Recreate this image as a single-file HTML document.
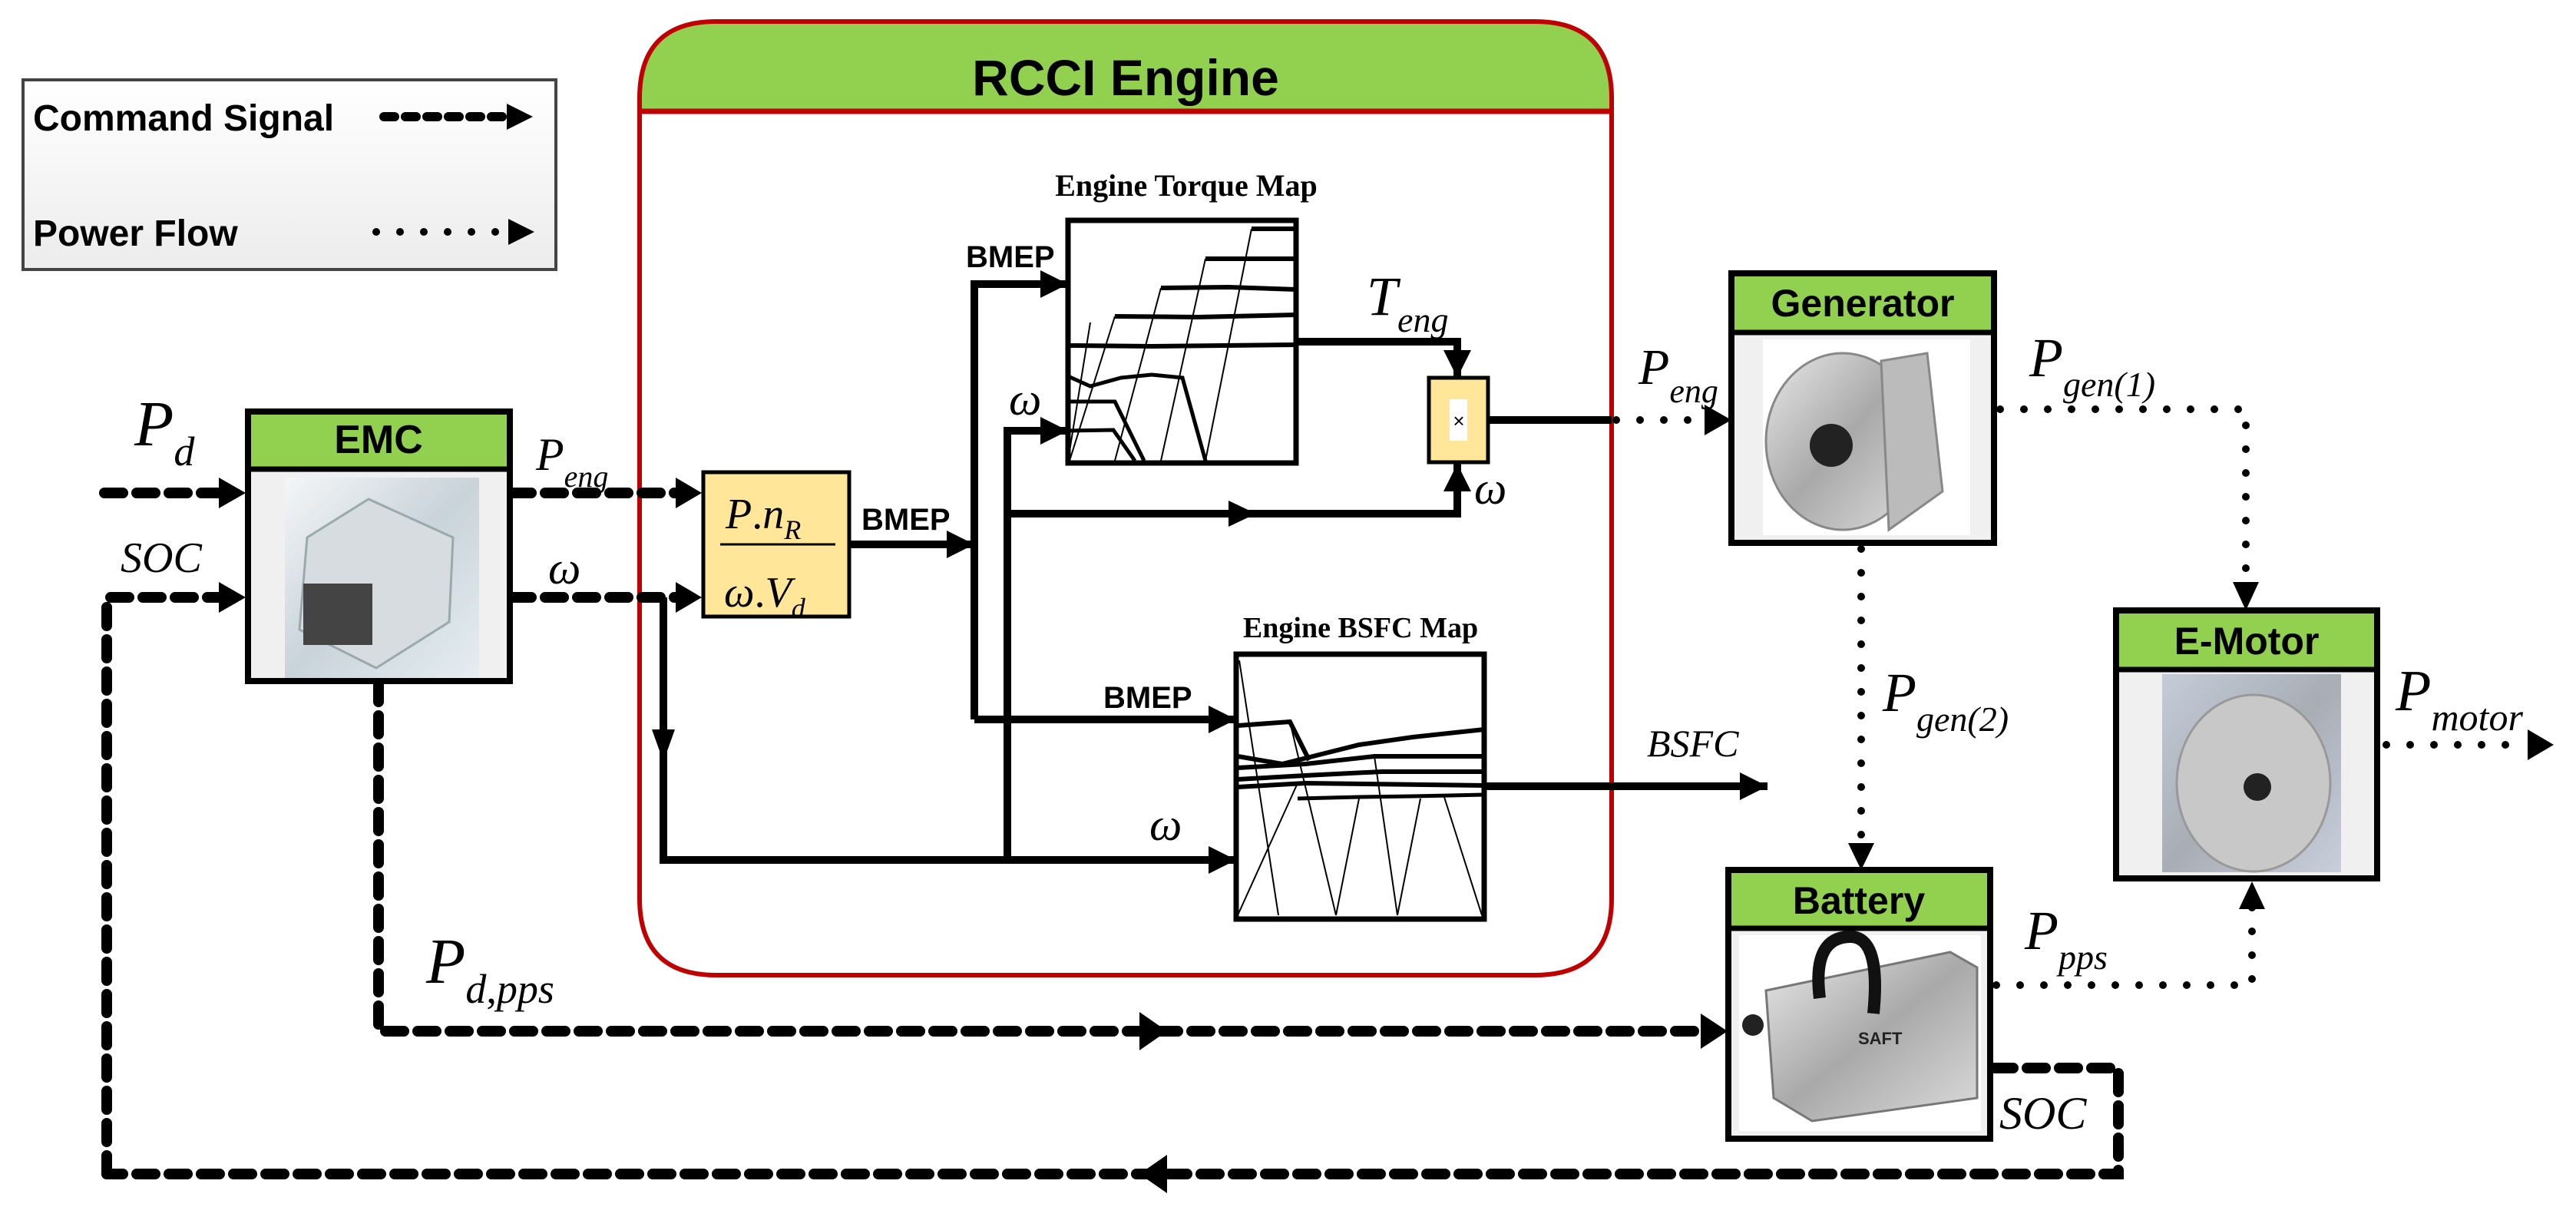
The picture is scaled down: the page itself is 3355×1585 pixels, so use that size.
<!DOCTYPE html>
<html><head><meta charset="utf-8"><style>
html,body{margin:0;padding:0;background:#fff;}
svg{display:block;}
.ser{font-family:"Liberation Serif",serif;font-style:italic;}
.hd{font-family:"Liberation Sans",sans-serif;font-weight:bold;}
</style></head><body>
<svg width="3355" height="1585" viewBox="0 0 3355 1585" xmlns="http://www.w3.org/2000/svg">
<defs>
<marker id="ar" markerUnits="userSpaceOnUse" markerWidth="40" markerHeight="40" refX="36" refY="18" orient="auto"><path d="M0,0 L36,18 L0,36 z" fill="#000"/></marker>
<linearGradient id="lg" x1="0" y1="0" x2="0" y2="1"><stop offset="0" stop-color="#fff"/><stop offset="1" stop-color="#ececec"/></linearGradient>
<linearGradient id="ph1" x1="0" y1="0" x2="1" y2="1"><stop offset="0" stop-color="#f4f6f8"/><stop offset="0.5" stop-color="#c9d3da"/><stop offset="1" stop-color="#e6eef2"/></linearGradient>
<linearGradient id="ph2" x1="0" y1="0" x2="1" y2="1"><stop offset="0" stop-color="#e8e8e8"/><stop offset="0.5" stop-color="#a9a9a9"/><stop offset="1" stop-color="#dcdcdc"/></linearGradient>
<linearGradient id="ph3" x1="0" y1="0" x2="1" y2="1"><stop offset="0" stop-color="#c5ccd8"/><stop offset="0.5" stop-color="#a8adb5"/><stop offset="1" stop-color="#c8cfdb"/></linearGradient>
</defs>

<!-- Legend -->
<rect x="30" y="104" width="694" height="247" fill="url(#lg)" stroke="#444" stroke-width="4"/>
<text x="43" y="170" class="hd" font-size="48">Command Signal</text>
<line x1="500" y1="152" x2="660" y2="152" stroke="#000" stroke-width="12" stroke-dasharray="14 14" stroke-linecap="round"/>
<path d="M660,135 L694,152 L660,169 z"/>
<text x="43" y="320" class="hd" font-size="48">Power Flow</text>
<line x1="490" y1="302" x2="660" y2="302" stroke="#000" stroke-width="10" stroke-dasharray="0 31" stroke-linecap="round"/>
<path d="M662,285 L696,302 L662,319 z"/>

<!-- RCCI engine container -->
<path d="M833,145 L833,128 Q833,28 933,28 L1999,28 Q2099,28 2099,128 L2099,145 Z" fill="#92d050"/>
<path d="M933,28 L1999,28 Q2099,28 2099,128 L2099,1170 Q2099,1270 1999,1270 L933,1270 Q833,1270 833,1170 L833,128 Q833,28 933,28 Z" fill="none" stroke="#c00000" stroke-width="6"/>
<line x1="833" y1="145" x2="2099" y2="145" stroke="#c00000" stroke-width="7"/>
<text x="1466" y="124" class="hd" font-size="66" text-anchor="middle">RCCI Engine</text>

<!-- Torque map -->
<text x="1545" y="255" font-family="Liberation Serif,serif" font-weight="bold" font-size="40" text-anchor="middle">Engine Torque Map</text>
<rect x="1391" y="287" width="297" height="316" fill="#fff" stroke="#000" stroke-width="7"/>
<g stroke="#000" fill="none">
<path d="M1630,298 L1688,298 M1570,337 L1688,337 M1512,375 L1600,374 L1688,377 M1452,412 L1560,413 L1688,410 M1391,450 L1500,451 L1688,449" stroke-width="6"/>
<path d="M1391,490 L1420,503 L1460,492 L1500,488 L1540,492 L1570,600 M1391,523 L1452,523 L1490,600 M1391,561 L1450,560 L1478,600" stroke-width="5"/>
<path d="M1393,600 L1452,412 M1452,600 L1512,375 M1512,600 L1570,337 M1570,600 L1630,298 M1391,600 L1420,420" stroke-width="2"/>
</g>
<!-- BSFC map -->
<text x="1772" y="830" font-family="Liberation Serif,serif" font-weight="bold" font-size="38" text-anchor="middle">Engine BSFC Map</text>
<rect x="1610" y="852" width="323" height="345" fill="#fff" stroke="#000" stroke-width="7"/>
<g stroke="#000" fill="none">
<path d="M1612,945 L1680,940 L1705,990 M1612,985 L1670,995 L1710,985 L1770,970 L1840,960 L1933,950 M1612,1000 L1700,995 L1790,985 L1933,985 M1612,1015 L1700,1010 L1800,1005 L1933,1005 M1612,1025 L1700,1020 L1933,1023" stroke-width="6"/>
<path d="M1690,1040 L1770,1038 L1840,1037 L1933,1035" stroke-width="5"/>
<path d="M1614,860 L1665,1192 M1612,1192 L1690,1020 M1680,940 L1740,1192 M1740,1192 L1770,1040 M1790,985 L1820,1192 M1820,1192 L1850,1040 M1880,1035 L1930,1192" stroke-width="2"/>
</g>

<!-- Multiplier -->
<rect x="1861" y="492" width="77" height="110" fill="#ffe699" stroke="#000" stroke-width="5"/>
<rect x="1888" y="520" width="23" height="54" fill="#fff"/>
<text x="1900" y="557" font-family="Liberation Sans,sans-serif" font-size="26" text-anchor="middle">×</text>

<!-- Formula box -->
<rect x="916" y="615" width="190" height="188" fill="#ffe699" stroke="#000" stroke-width="5"/>
<line x1="938" y1="709" x2="1088" y2="709" stroke="#000" stroke-width="3"/>
<text x="945" y="688" class="ser" font-size="56">P<tspan font-style="normal">.</tspan>n<tspan font-size="36" dy="14">R</tspan></text>
<text x="943" y="790" class="ser" font-size="56">ω<tspan font-style="normal">.</tspan>V<tspan font-size="36" dy="14">d</tspan></text>

<!-- thick signal lines inside engine -->
<g stroke="#000" stroke-width="10" fill="none">
<line x1="1106" y1="709" x2="1269" y2="709" marker-end="url(#ar)"/>
<polyline points="1269,937 1269,370 1391,370" marker-end="url(#ar)"/>
<polyline points="1269,937 1610,937" marker-end="url(#ar)"/>
<polyline points="1312,1120 1312,561 1391,561" marker-end="url(#ar)"/>
<polyline points="1312,669 1898,669 1898,604" marker-end="url(#ar)"/>
<polyline points="1688,445 1898,445 1898,492" marker-end="url(#ar)"/>
<polyline points="864,778 864,1120 1610,1120" marker-end="url(#ar)"/>
<line x1="1938" y1="547" x2="2099" y2="547"/>
<line x1="1933" y1="1024" x2="2302" y2="1024" marker-end="url(#ar)"/>
</g>
<path d="M1600,652 L1636,669 L1600,686 z"/>
<path d="M849,950 L879,950 L864,992 z"/>

<!-- labels engine -->
<text x="1258" y="348" class="hd" font-size="40">BMEP</text>
<text x="1122" y="690" class="hd" font-size="40">BMEP</text>
<text x="1437" y="922" class="hd" font-size="40">BMEP</text>
<text x="1314" y="540" class="ser" font-size="60">ω</text>
<text x="1497" y="1094" class="ser" font-size="60">ω</text>
<text x="1920" y="656" class="ser" font-size="60">ω</text>
<text x="1780" y="410" class="ser" font-size="72">T<tspan font-size="46" dy="22">eng</tspan></text>
<text x="2145" y="985" class="ser" font-size="50">BSFC</text>

<!-- EMC -->
<rect x="323" y="536" width="341" height="351" fill="#f0f0f0" stroke="#000" stroke-width="8"/>
<rect x="327" y="540" width="333" height="71" fill="#92d050"/>
<line x1="323" y1="611" x2="664" y2="611" stroke="#000" stroke-width="7"/>
<text x="493" y="590" class="hd" font-size="52" text-anchor="middle">EMC</text>
<rect x="371" y="622" width="253" height="261" fill="url(#ph1)"/>
<path d="M390,820 L400,700 L480,650 L590,700 L585,810 L490,870 Z" fill="#d6dce0" stroke="#9aa" stroke-width="3"/>
<rect x="395" y="760" width="90" height="80" fill="#444"/>

<!-- dashed command lines -->
<g stroke="#000" stroke-width="14" stroke-dasharray="24 18" stroke-linecap="round" fill="none">
<line x1="136" y1="642" x2="285" y2="642"/>
<polyline points="139,1529 139,778 285,778"/>
<line x1="668" y1="642" x2="880" y2="642"/>
<line x1="668" y1="778" x2="880" y2="778"/>
<polyline points="493,890 493,1343 2215,1343"/>
<polyline points="2598,1391 2759,1391 2759,1529 139,1529"/>
</g>
<path d="M285,622 L320,642 L285,662 z"/>
<path d="M285,758 L320,778 L285,798 z"/>
<path d="M880,622 L914,642 L880,662 z"/>
<path d="M880,758 L914,778 L880,798 z"/>
<path d="M2215,1320 L2250,1343 L2215,1366 z"/>
<path d="M1484,1318 L1520,1343 L1484,1368 z"/>
<path d="M1520,1504 L1484,1529 L1520,1554 z"/>

<!-- labels left -->
<text x="175" y="580" class="ser" font-size="84">P<tspan font-size="54" dy="26">d</tspan></text>
<text x="157" y="745" class="ser" font-size="56">SOC</text>
<text x="698" y="612" class="ser" font-size="60">P<tspan font-size="40" dy="22">eng</tspan></text>
<text x="714" y="760" class="ser" font-size="60">ω</text>
<text x="555" y="1280" class="ser" font-size="84">P<tspan font-size="54" dy="26">d<tspan font-style="normal">,</tspan>pps</tspan></text>

<!-- Generator -->
<rect x="2255" y="356" width="342" height="351" fill="#f0f0f0" stroke="#000" stroke-width="8"/>
<rect x="2259" y="360" width="334" height="73" fill="#92d050"/>
<line x1="2255" y1="433" x2="2597" y2="433" stroke="#000" stroke-width="7"/>
<text x="2426" y="412" class="hd" font-size="50" text-anchor="middle">Generator</text>
<rect x="2296" y="442" width="270" height="255" fill="#fff"/>
<ellipse cx="2400" cy="575" rx="100" ry="115" fill="url(#ph2)" stroke="#888" stroke-width="3"/>
<circle cx="2385" cy="580" r="28" fill="#222"/>
<path d="M2450,470 L2510,460 L2530,640 L2460,690 Z" fill="#bbb" stroke="#888" stroke-width="3"/>

<!-- Battery -->
<rect x="2251" y="1133" width="341" height="350" fill="#f0f0f0" stroke="#000" stroke-width="8"/>
<rect x="2255" y="1137" width="333" height="72" fill="#92d050"/>
<line x1="2251" y1="1209" x2="2592" y2="1209" stroke="#000" stroke-width="7"/>
<text x="2421" y="1190" class="hd" font-size="50" text-anchor="middle">Battery</text>
<rect x="2265" y="1218" width="315" height="255" fill="#fff"/>
<path d="M2300,1290 L2540,1240 L2575,1260 L2575,1430 L2360,1460 L2310,1430 Z" fill="url(#ph2)" stroke="#777" stroke-width="3"/>
<path d="M2370,1300 Q2360,1220 2410,1220 Q2450,1220 2440,1320" fill="none" stroke="#111" stroke-width="16"/>
<text x="2420" y="1360" font-family="Liberation Sans,sans-serif" font-size="22" font-weight="bold" fill="#222">SAFT</text>
<circle cx="2283" cy="1335" r="14" fill="#222"/>

<!-- E-Motor -->
<rect x="2756" y="795" width="340" height="349" fill="#f0f0f0" stroke="#000" stroke-width="8"/>
<rect x="2760" y="799" width="332" height="73" fill="#92d050"/>
<line x1="2756" y1="872" x2="3096" y2="872" stroke="#000" stroke-width="7"/>
<text x="2926" y="852" class="hd" font-size="50" text-anchor="middle">E-Motor</text>
<rect x="2816" y="878" width="233" height="258" fill="url(#ph3)"/>
<ellipse cx="2935" cy="1020" rx="100" ry="115" fill="#c8c8c8" stroke="#999" stroke-width="3"/>
<circle cx="2940" cy="1025" r="18" fill="#222"/>

<!-- dotted power lines -->
<g stroke="#000" stroke-width="10" stroke-dasharray="0 31" stroke-linecap="round" fill="none">
<line x1="2105" y1="547" x2="2218" y2="547"/>
<polyline points="2605,533 2925,533 2925,758"/>
<line x1="2424" y1="715" x2="2424" y2="1098"/>
<polyline points="2600,1283 2933,1283 2933,1180"/>
<line x1="3108" y1="970" x2="3290" y2="970"/>
</g>
<path d="M2220,527 L2255,547 L2220,567 z"/>
<path d="M2908,758 L2942,758 L2925,795 z"/>
<path d="M2407,1098 L2441,1098 L2424,1133 z"/>
<path d="M2916,1184 L2950,1184 L2933,1148 z"/>
<path d="M3292,950 L3326,970 L3292,990 z"/>

<!-- labels right -->
<text x="2134" y="500" class="ser" font-size="66">P<tspan font-size="44" dy="24">eng</tspan></text>
<text x="2643" y="490" class="ser" font-size="72">P<tspan font-size="46" dy="26">gen(1)</tspan></text>
<text x="2452" y="926" class="ser" font-size="72">P<tspan font-size="46" dy="26">gen(2)</tspan></text>
<text x="3120" y="925" class="ser" font-size="76">P<tspan font-size="50" dy="26">motor</tspan></text>
<text x="2637" y="1236" class="ser" font-size="72">P<tspan font-size="46" dy="26">pps</tspan></text>
<text x="2604" y="1470" class="ser" font-size="60">SOC</text>
</svg>
</body></html>
